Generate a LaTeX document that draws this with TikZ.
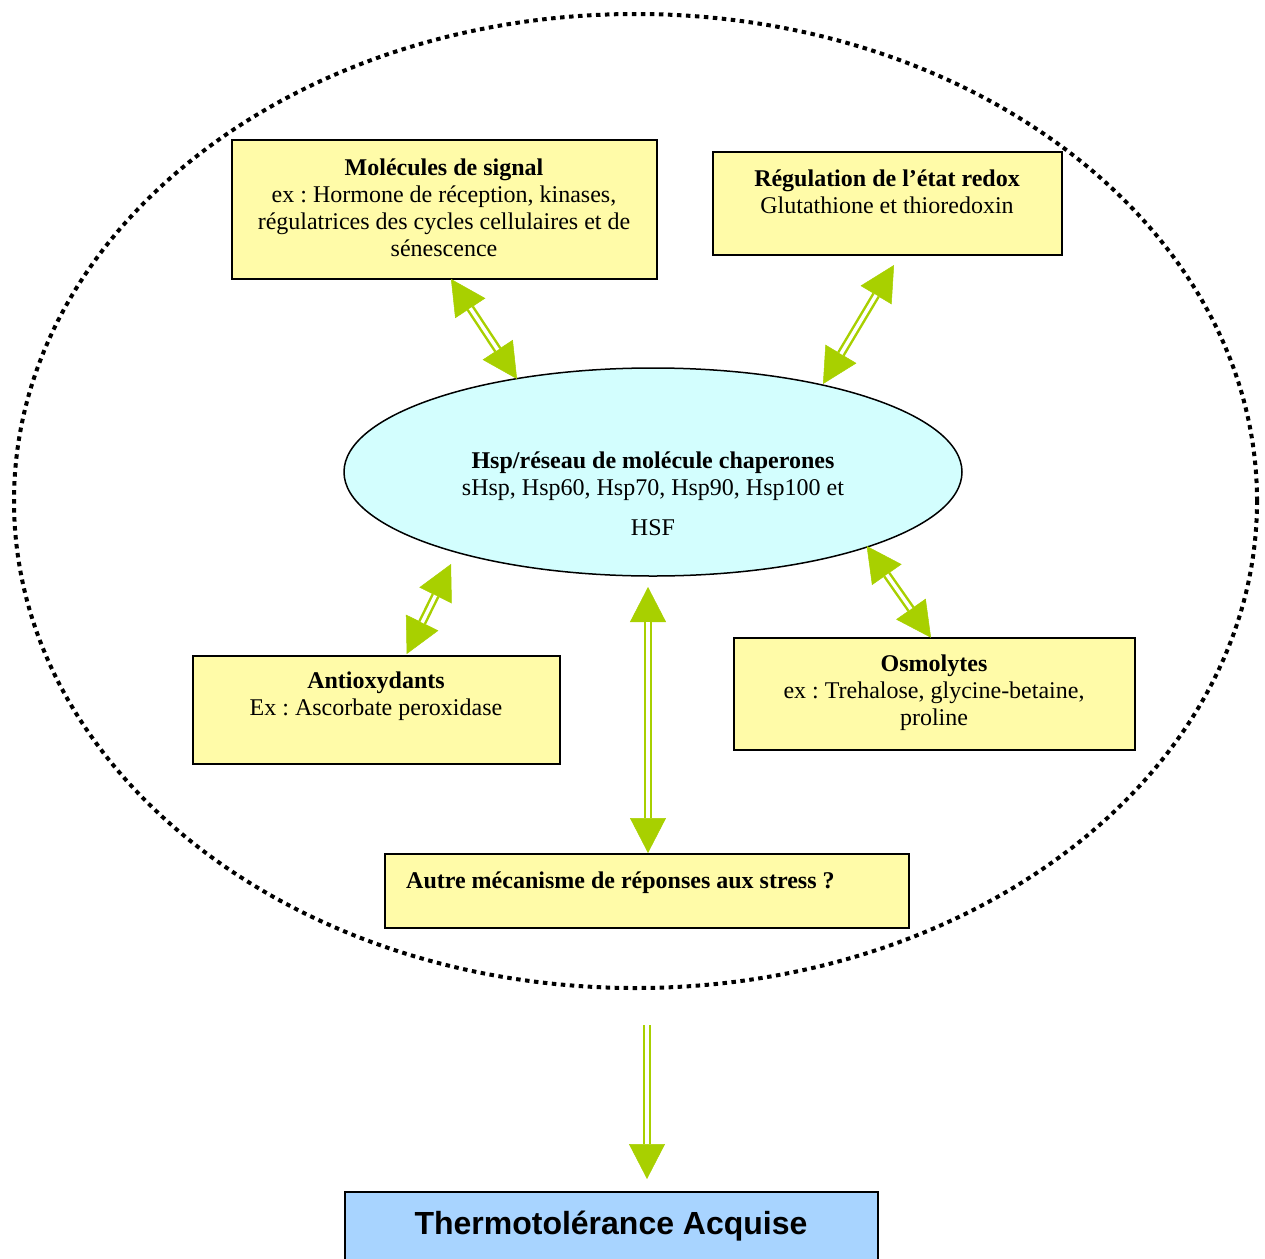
\documentclass[tikz,border=0pt]{standalone}
\usepackage{fontspec}
\setmainfont{Liberation Serif}
\newfontfamily\arialfont{Liberation Sans}
\usetikzlibrary{arrows.meta,shapes.geometric}
\definecolor{boxyellow}{HTML}{FFFBA8}
\definecolor{hspcyan}{HTML}{D3FEFE}
\definecolor{thermoblue}{HTML}{A8D4FF}
\definecolor{arrowgreen}{HTML}{A8D000}
\frenchspacing
\begin{document}
\begin{tikzpicture}[x=1pt,y=-1pt,
  box/.style={draw=black, line width=2pt, fill=boxyellow, inner sep=0pt},
  txt/.style={font=\fontsize{24}{27}\selectfont, align=center, inner sep=0pt},
  tipline/.style={draw=arrowgreen, fill=arrowgreen, line width=0.5pt},
  shaft/.style={draw=arrowgreen, line width=2.5pt, double=white, double distance=3.5pt},
  gtip/.tip={Triangle[length=35pt,width=36pt]}
]
\useasboundingbox (0,0) rectangle (1265,1258);

% dotted outer ellipse
\node[ellipse, draw=black, line width=4pt, dash pattern=on 4.5pt off 4.5pt,
      minimum width=1243pt, minimum height=974pt, inner sep=0pt] (cell) at (635.5,501) {};

% central ellipse
\node[ellipse, draw=black, line width=1.5pt, fill=hspcyan,
      minimum width=618pt, minimum height=208pt, inner sep=0pt] (hsp) at (653,472) {};
\node[txt] (hspt) at (653,493.5) {\textbf{Hsp/réseau de molécule chaperones}\\sHsp, Hsp60, Hsp70, Hsp90, Hsp100 et\\[13pt]HSF};

% boxes
\node[box, minimum width=425pt, minimum height=139pt] (mol) at (444.5,209.5) {};
\node[txt] (molt) at (444,207.5) {\textbf{Molécules de signal}\\ex : Hormone de réception, kinases,\\régulatrices des cycles cellulaires et de\\sénescence};

\node[box, minimum width=349pt, minimum height=103pt] (reg) at (887.5,203.5) {};
\node[txt] (regt) at (887,191.5) {\textbf{Régulation de l’état redox}\\Glutathione et thioredoxin};

\node[box, minimum width=367pt, minimum height=108pt] (anti) at (376.5,710) {};
\node[txt] (antit) at (376,696.5) {\textbf{Antioxydants}\\Ex : Ascorbate peroxidase};

\node[box, minimum width=401pt, minimum height=112pt] (osmo) at (934.5,694) {};
\node[txt] (osmot) at (934,692.5) {\textbf{Osmolytes}\\ex : Trehalose, glycine-betaine,\\proline};

\node[box, minimum width=524pt, minimum height=74pt] (autre) at (647,891) {};
\node[txt, anchor=west] (autret) at (406,883) {\textbf{Autre mécanisme de réponses aux stress ?}};

\node[draw=black, line width=2pt, fill=thermoblue, minimum width=533pt, minimum height=70pt, inner sep=0pt] (thermo) at (611.5,1227) {};
\node[inner sep=0pt, font=\arialfont\bfseries\fontsize{32}{38}\selectfont] (thermot) at (611,1226) {Thermotolérance Acquise};

% arrow end points
\coordinate (a1) at (451,279);   \coordinate (b1) at (517,379);
\coordinate (a2) at (894,265);   \coordinate (b2) at (823,384);
\coordinate (a3) at (451,564);   \coordinate (b3) at (406.7,654);
\coordinate (a4) at (866.7,546); \coordinate (b4) at (931,637.7);
\coordinate (a5) at (648,587);   \coordinate (b5) at (648,853);
\coordinate (a6) at (647,1025);  \coordinate (b6) at (647,1179);

% double arrows
\foreach \s/\e in {a1/b1,a2/b2,a3/b3,a4/b4,a5/b5}{
  \draw[tipline, {gtip}-{gtip}] (\s) -- (\e);
  \draw[shaft, shorten <=35pt, shorten >=35pt] (\s) -- (\e);
}
\draw[tipline, -{gtip}] (a6) -- (b6);
\draw[shaft, shorten >=35pt] (a6) -- (b6);
\end{tikzpicture}
\end{document}
